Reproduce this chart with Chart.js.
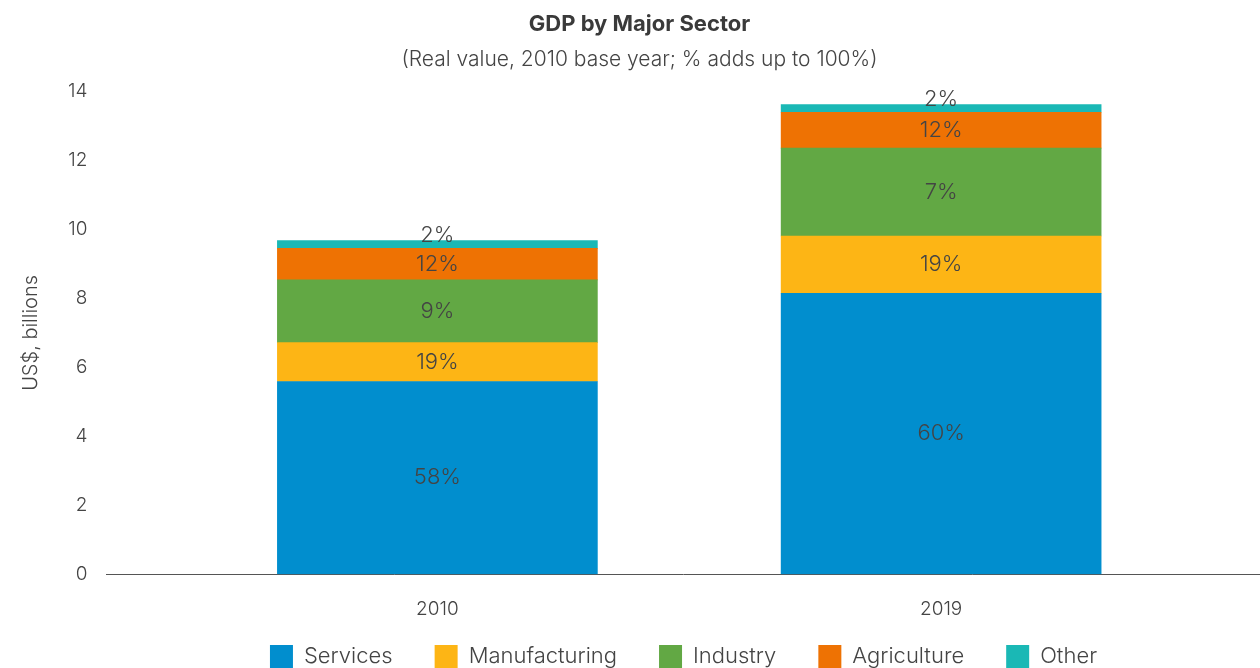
<!DOCTYPE html>
<html>
<head>
<meta charset="utf-8">
<title>GDP by Major Sector</title>
<script src="https://cdn.jsdelivr.net/npm/chart.js@4"></script>
<style>
  html, body { margin: 0; padding: 0; background: #fff; overflow: hidden; }
  #wrap { position: relative; width: 1260px; height: 712px; }
</style>
</head>
<body>
<div id="wrap"><canvas id="gdpChart"></canvas></div>
<script>
// years on the x axis
var years = ['2010', '2019'];

// real GDP per sector, US$ billions
var services      = [5.59, 8.15];
var manufacturing = [1.13, 1.66];
var industry      = [1.82, 2.55];
var agriculture   = [0.91, 1.04];
var other         = [0.23, 0.22];

// share labels printed on each segment
var servicesPct      = ['58%', '60%'];
var manufacturingPct = ['19%', '19%'];
var industryPct      = ['9%', '7%'];
var agriculturePct   = ['12%', '12%'];
var otherPct         = ['2%', '2%'];

var yTicks = [0, 2, 4, 6, 8, 10, 12, 14];

var FONT = "Inter, 'Open Sans', sans-serif";
var TEXT = '#444444';

function points(arr) {
    return arr.map(function (v, i) { return { x: i, y: v }; });
}

var sectors = [
    { label: 'Services',      data: services,      pct: servicesPct,      color: '#018ECE' },
    { label: 'Manufacturing', data: manufacturing, pct: manufacturingPct, color: '#FDB515' },
    { label: 'Industry',      data: industry,      pct: industryPct,      color: '#62A844' },
    { label: 'Agriculture',   data: agriculture,   pct: agriculturePct,   color: '#EE7203' },
    { label: 'Other',         data: other,         pct: otherPct,         color: '#1AB8B5' }
];

// percentage text in the middle of each stacked segment
var segmentLabels = {
    id: 'segmentLabels',
    afterDatasetsDraw: function (chart) {
        var ctx = chart.ctx;
        ctx.save();
        ctx.font = '300 22px ' + FONT;
        ctx.fillStyle = TEXT;
        ctx.textAlign = 'center';
        ctx.textBaseline = 'middle';
        var last = chart.data.datasets.length - 1;
        chart.data.datasets.forEach(function (ds, i) {
            var meta = chart.getDatasetMeta(i);
            meta.data.forEach(function (bar, j) {
                var p = bar.getProps(['x', 'y', 'base'], true);
                var cy = (p.y + p.base) / 2;
                if (i === last) cy -= 9;
                ctx.fillText(ds.pct[j], p.x, cy);
            });
        });
        ctx.restore();
    }
};

// nudge the legend row up under the year labels and a bit to the right
var legendShift = {
    id: 'legendShift',
    afterInit: function (chart) {
        var legend = chart.legend;
        var draw = legend.draw;
        legend.draw = function () {
            this.ctx.save();
            this.ctx.translate(44, -34);
            draw.apply(this, arguments);
            this.ctx.restore();
        };
    }
};

var ctx = document.getElementById('gdpChart').getContext('2d');

var myChart = new Chart(ctx, {
    type: 'bar',
    data: {
        datasets: sectors.map(function (s) {
            return {
                label: s.label,
                data: points(s.data),
                pct: s.pct,
                backgroundColor: s.color,
                borderWidth: 0,
                barThickness: 320
            };
        })
    },
    options: {
        responsive: true,
        maintainAspectRatio: false,
        animation: false,
        layout: { padding: { left: 19, right: 0, top: 0, bottom: 0 } },
        scales: {
            x: {
                type: 'linear',
                stacked: true,
                offset: false,
                min: -0.657,
                max: 1.633,
                grid: { display: false },
                border: { display: true, color: '#555555', width: 1 },
                afterBuildTicks: function (scale) {
                    scale.ticks = years.map(function (y, i) { return { value: i }; });
                },
                ticks: {
                    font: { family: FONT, size: 19, weight: '300' },
                    color: TEXT,
                    padding: 16,
                    callback: function (v) { return years[v]; }
                }
            },
            y: {
                stacked: true,
                min: 0,
                max: 14,
                grid: { display: false },
                border: { display: false },
                afterBuildTicks: function (scale) {
                    scale.ticks = yTicks.map(function (v) { return { value: v }; });
                },
                ticks: {
                    font: { family: FONT, size: 19, weight: '300' },
                    color: TEXT,
                    padding: 11
                },
                title: {
                    display: true,
                    text: 'US$, billions',
                    font: { family: FONT, size: 20, weight: '300' },
                    color: TEXT,
                    padding: { top: 0, bottom: 14 }
                }
            }
        },
        plugins: {
            title: {
                display: true,
                text: 'GDP by Major Sector',
                font: { family: FONT, size: 22, weight: 'bold' },
                color: '#3a3a3a',
                padding: { top: 11, bottom: 5 }
            },
            subtitle: {
                display: true,
                text: '(Real value, 2010 base year; % adds up to 100%)',
                font: { family: FONT, size: 21, weight: '300' },
                color: TEXT,
                padding: { top: 5, bottom: 19 }
            },
            legend: {
                position: 'bottom',
                labels: {
                    boxWidth: 23,
                    boxHeight: 23,
                    padding: 42,
                    color: TEXT,
                    font: { family: FONT, size: 22, weight: '300' }
                }
            },
            tooltip: { enabled: false }
        }
    },
    plugins: [segmentLabels, legendShift]
});
</script>
</body>
</html>
